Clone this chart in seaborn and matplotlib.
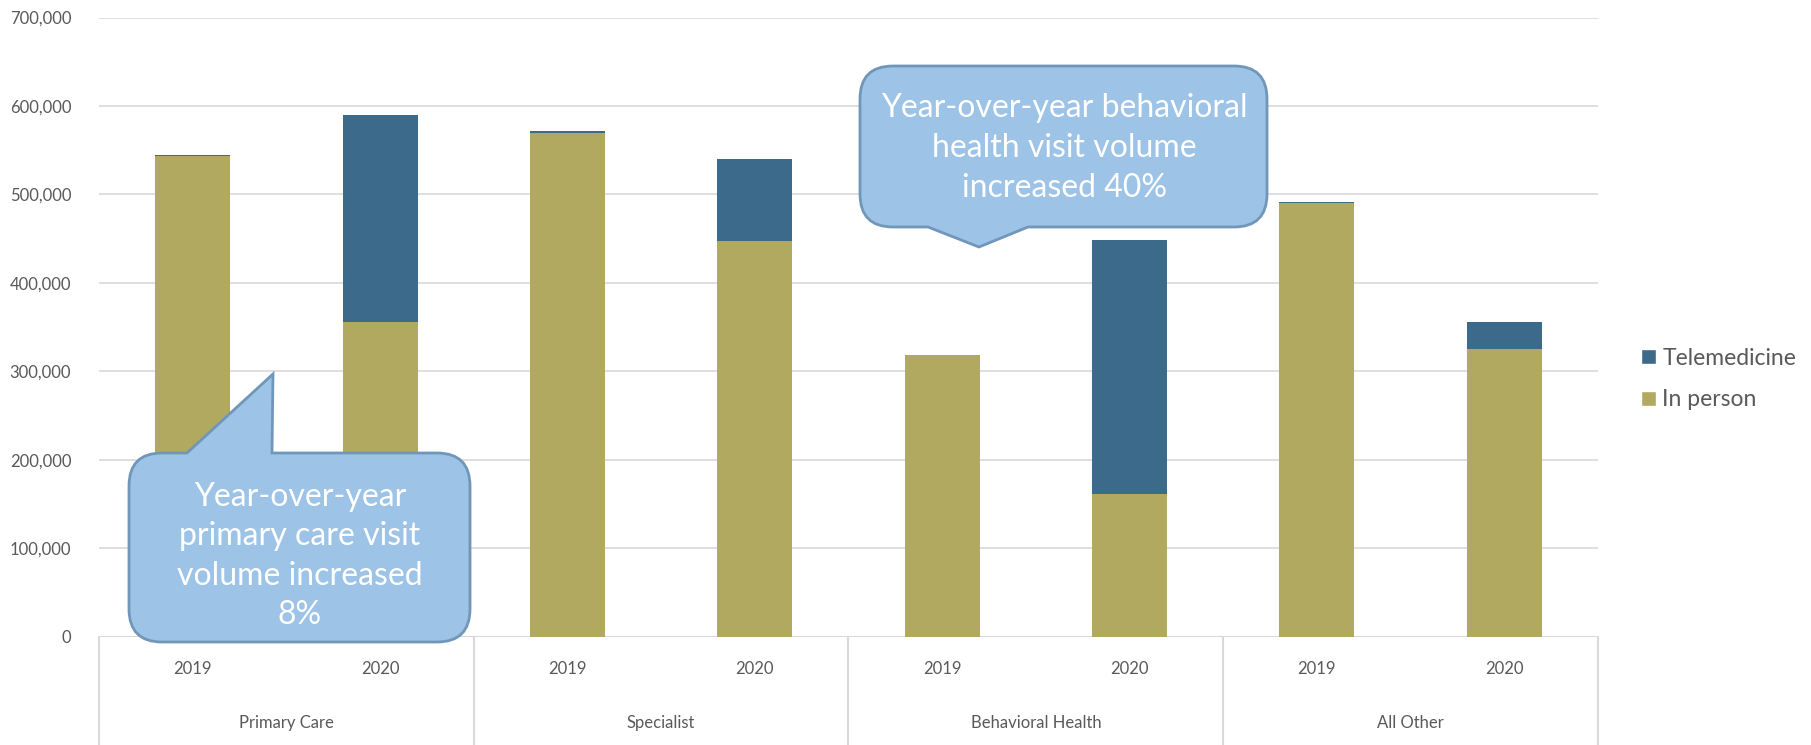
import numpy as np
import pandas as pd
import matplotlib
matplotlib.use("Agg")
import matplotlib.pyplot as plt
from matplotlib.path import Path
from matplotlib.patches import PathPatch, Patch
from matplotlib.ticker import FuncFormatter
import seaborn as sns

# data
categories = ["Primary Care", "Specialist", "Behavioral Health", "All Other"]
years = ["2019", "2020"]
in_person = [543000, 356000, 570000, 447000, 318000, 161000, 490000, 325000]
telemedicine = [2000, 234000, 2000, 93000, 1000, 287000, 1500, 31000]

TELE_COLOR = "#3C6A8B"
INP_COLOR = "#B1A95F"
TEXT_COLOR = "#595959"
GRID_COLOR = "#D9D9D9"
CALLOUT_FILL = "#9DC3E6"
CALLOUT_EDGE = "#7096BA"

keys = [f"{c} {y}" for c in categories for y in years]
df = pd.DataFrame({
    "key": keys,
    "category": np.repeat(categories, len(years)),
    "year": years * len(categories),
    "in_person": in_person,
    "telemedicine": telemedicine,
})
df["total"] = df["in_person"] + df["telemedicine"]

sns.set_theme(style="white")
plt.rcParams["font.family"] = ["Lato", "DejaVu Sans"]

W, H = 1811, 745
fig = plt.figure(figsize=(W / 100, H / 100), dpi=100)
ax = fig.add_axes([99 / W, 1 - 636.6 / H, (1598 - 99) / W, (636.6 - 17.6) / H])

sns.barplot(data=df, x="key", y="total", order=keys, color=TELE_COLOR,
            saturation=1, width=0.4, linewidth=0, ax=ax, zorder=2)
sns.barplot(data=df, x="key", y="in_person", order=keys, color=INP_COLOR,
            saturation=1, width=0.4, linewidth=0, ax=ax, zorder=3)

ax.set_xlim(-0.5, len(keys) - 0.5)
ax.set_ylim(0, 700000)
ax.set_yticks(np.arange(0, 700001, 100000))
ax.yaxis.set_major_formatter(FuncFormatter(lambda v, p: f"{int(v):,}"))
ax.tick_params(axis="y", length=0, pad=20, labelsize=12, labelcolor=TEXT_COLOR)
ax.set_xticks([])
ax.set_xlabel("")
ax.set_ylabel("")
ax.grid(axis="y", color=GRID_COLOR, linewidth=1.2, zorder=0)
ax.set_axisbelow(True)
for s in ax.spines.values():
    s.set_visible(False)
ax.axhline(0, color=GRID_COLOR, linewidth=1.5, zorder=1)

# multi-level category axis
trans = ax.get_xaxis_transform()
n = len(years)
for i in range(len(categories) + 1):
    xb = i * n - 0.5
    ax.plot([xb, xb], [0, -0.2], color=GRID_COLOR, linewidth=1.5,
            transform=trans, clip_on=False)
for i, k in enumerate(keys):
    ax.text(i, -0.052, df["year"][i], transform=trans, ha="center", va="center",
            fontsize=12, color=TEXT_COLOR)
for j, c in enumerate(categories):
    ax.text(j * n + (n - 1) / 2, -0.14, c, transform=trans, ha="center",
            va="center", fontsize=12, color=TEXT_COLOR)

handles = [Patch(facecolor=TELE_COLOR, label="Telemedicine"),
           Patch(facecolor=INP_COLOR, label="In person")]
fig.legend(handles=handles, loc="center left", bbox_to_anchor=(1620 / W, 1 - 379 / H),
           frameon=False, fontsize=16.5, labelcolor=TEXT_COLOR, handlelength=0.65,
           handleheight=0.65, handletextpad=0.3, labelspacing=0.9)


def callout(x0, y0, x1, y1, r, tail_side, b1, apex, b2):
    # rounded box with a pointed tail, pixel coords (y downward)
    verts, codes = [], []

    def mv(p):
        verts.append(p); codes.append(Path.MOVETO)

    def ln(p):
        verts.append(p); codes.append(Path.LINETO)

    def cv(c, p):
        verts.extend([c, p]); codes.extend([Path.CURVE3, Path.CURVE3])

    mv((x0 + r, y0))
    if tail_side == "top":
        ln((b1, y0)); ln(apex); ln((b2, y0))
    ln((x1 - r, y0))
    cv((x1, y0), (x1, y0 + r))
    ln((x1, y1 - r))
    cv((x1, y1), (x1 - r, y1))
    if tail_side == "bottom":
        ln((b2, y1)); ln(apex); ln((b1, y1))
    ln((x0 + r, y1))
    cv((x0, y1), (x0, y1 - r))
    ln((x0, y0 + r))
    cv((x0, y0), (x0 + r, y0))
    verts.append((x0 + r, y0)); codes.append(Path.CLOSEPOLY)
    verts = [(x / W, 1 - y / H) for x, y in verts]
    patch = PathPatch(Path(verts, codes), facecolor=CALLOUT_FILL,
                      edgecolor=CALLOUT_EDGE, linewidth=2,
                      transform=fig.transFigure, zorder=10)
    fig.add_artist(patch)


callout(129, 453, 470, 642, 33, "top", 187, (273, 374), 272)
fig.text(300 / W, 1 - 556 / H,
         "Year-over-year\nprimary care visit\nvolume increased\n8%",
         ha="center", va="center", fontsize=23, color="white",
         linespacing=1.4, zorder=11)

callout(860, 66, 1267, 227, 33, "bottom", 928, (979, 247), 1028)
fig.text(1064 / W, 1 - 148 / H,
         "Year-over-year behavioral\nhealth visit volume\nincreased 40%",
         ha="center", va="center", fontsize=23, color="white",
         linespacing=1.4, zorder=11)

fig.savefig("out.png", dpi=100)
